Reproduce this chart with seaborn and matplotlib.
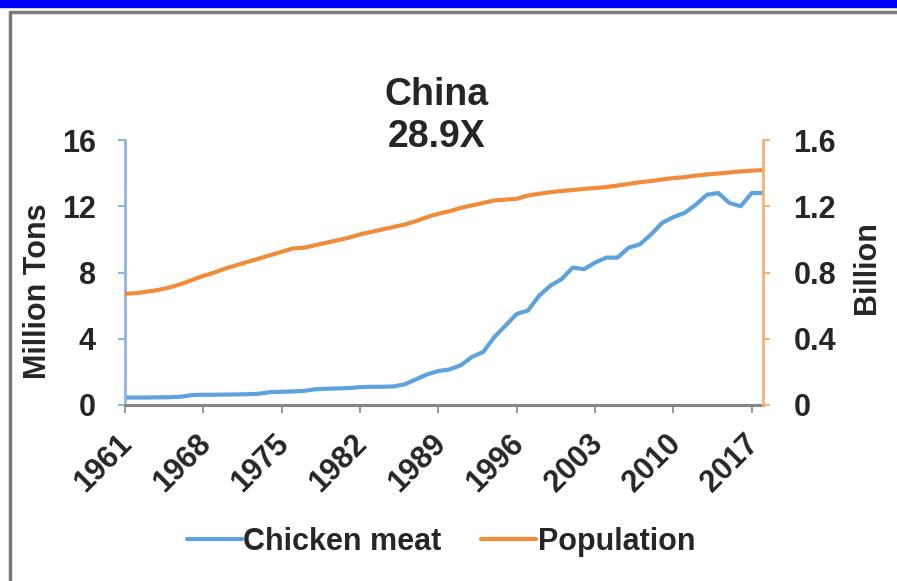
import numpy as np
import pandas as pd
import matplotlib
matplotlib.use("Agg")
import matplotlib.pyplot as plt
import matplotlib.transforms as mtransforms
from matplotlib.lines import Line2D
from matplotlib.patches import Rectangle
import seaborn as sns

years = list(range(1961, 2019))
chicken_meat = [0.45, 0.45, 0.45, 0.46, 0.47, 0.50, 0.60, 0.62, 0.62, 0.63,
                0.64, 0.65, 0.68, 0.78, 0.80, 0.82, 0.85, 0.95, 0.98, 1.00,
                1.02, 1.08, 1.10, 1.10, 1.12, 1.25, 1.55, 1.85, 2.05, 2.15,
                2.40, 2.90, 3.20, 4.10, 4.80, 5.50, 5.70, 6.60, 7.20, 7.60,
                8.30, 8.20, 8.60, 8.90, 8.90, 9.50, 9.70, 10.30, 11.00, 11.35,
                11.60, 12.10, 12.70, 12.80, 12.20, 12.00, 12.80, 12.80]
population = [0.672, 0.675, 0.685, 0.695, 0.710, 0.730, 0.755, 0.780, 0.800, 0.825,
              0.845, 0.865, 0.885, 0.905, 0.925, 0.945, 0.950, 0.965, 0.980, 0.995,
              1.010, 1.030, 1.045, 1.060, 1.075, 1.090, 1.110, 1.135, 1.155, 1.170,
              1.190, 1.205, 1.220, 1.235, 1.240, 1.245, 1.265, 1.275, 1.285, 1.292,
              1.298, 1.305, 1.310, 1.316, 1.325, 1.335, 1.345, 1.352, 1.362, 1.370,
              1.376, 1.385, 1.392, 1.398, 1.404, 1.410, 1.415, 1.418]
x_ticks = list(range(1961, 2018, 7))
left_ticks = [0, 4, 8, 12, 16]
right_ticks = [0, 0.4, 0.8, 1.2, 1.6]

BLUE = "#5DA2DD"
ORANGE = "#F08C3A"

sns.set_style("white")
plt.rcParams["font.family"] = ["Liberation Sans", "DejaVu Sans"]
plt.rcParams["font.weight"] = "bold"

df = pd.DataFrame({"year": years, "chicken": chicken_meat, "pop": population})

fig = plt.figure(figsize=(8.97, 5.81), dpi=100)
ax = fig.add_axes([125 / 897, 1 - 405 / 581, 638 / 897, 265 / 581])
ax2 = ax.twinx()

sns.lineplot(data=df, x="year", y="chicken", ax=ax, color=BLUE, lw=3,
             label="Chicken meat", legend=False)
sns.lineplot(data=df, x="year", y="pop", ax=ax2, color=ORANGE, lw=3,
             label="Population", legend=False)

ax.set_xlim(1961, 2018)
ax.set_ylim(0, 16)
ax2.set_ylim(0, 1.6)
ax.set_xticks(x_ticks)
ax.set_yticks(left_ticks)
ax2.set_yticks(right_ticks)
ax.set_yticklabels([str(v) for v in left_ticks])
ax2.set_yticklabels(["0" if v == 0 else f"{v:.1f}" for v in right_ticks])

for a in (ax, ax2):
    for s in a.spines.values():
        s.set_visible(False)
ax.spines["left"].set_visible(True)
ax.spines["left"].set_color("#8DB4E2")
ax.spines["left"].set_linewidth(2)
ax.spines["bottom"].set_visible(True)
ax.spines["bottom"].set_color("#858585")
ax.spines["bottom"].set_linewidth(2.2)
ax2.spines["right"].set_visible(True)
ax2.spines["right"].set_color("#F7B07A")
ax2.spines["right"].set_linewidth(2)

ax.tick_params(axis="y", left=True, length=5, width=1.5, color="#8DB4E2",
               labelsize=22, pad=16)
ax2.tick_params(axis="y", right=True, length=5, width=1.5, color="#F7B07A",
                labelsize=22, pad=17)
ax.tick_params(axis="x", bottom=True, length=6, width=1.2, color="#858585",
               labelsize=22, pad=19)
for lab in ax.get_yticklabels() + ax2.get_yticklabels():
    lab.set_fontweight("bold")
offset = mtransforms.ScaledTranslation(2 / 72, 0, fig.dpi_scale_trans)
for lab in ax.get_xticklabels():
    lab.set_rotation(45)
    lab.set_ha("right")
    lab.set_va("center")
    lab.set_rotation_mode("anchor")
    lab.set_fontweight("bold")
    lab.set_transform(lab.get_transform() + offset)

ax.set_xlabel("")
ax.set_ylabel("Million Tons", fontsize=22, fontweight="bold")
ax.yaxis.set_label_coords(-0.113, 0.43)
ax2.set_ylabel("Billion", fontsize=22, fontweight="bold")
ax2.yaxis.set_label_coords(1.139, 0.52)

fig.text(437 / 897, 1 - 116 / 581, "China\n28.9X", ha="center", va="center",
         fontsize=27, fontweight="bold", linespacing=1.2)

handles = [Line2D([], [], color=BLUE, lw=3), Line2D([], [], color=ORANGE, lw=3)]
fig.legend(handles, ["Chicken meat", "Population"], loc="center",
           bbox_to_anchor=(441 / 897, 1 - 542 / 581), ncol=2, frameon=False,
           handlelength=1.8, handletextpad=0.05, columnspacing=1.3,
           prop={"size": 22, "weight": "bold"})

# page decoration: blue band and grey frame
fig.patches.append(Rectangle((0, 1 - 7 / 581), 1, 7 / 581, transform=fig.transFigure,
                             color="#0000FF", zorder=5))
fig.lines.append(Line2D([10 / 897, 10 / 897], [0, 1 - 12 / 581], transform=fig.transFigure,
                        color="#7A7A7A", lw=2.5))
fig.lines.append(Line2D([10 / 897, 1], [1 - 12 / 581, 1 - 12 / 581], transform=fig.transFigure,
                        color="#7A7A7A", lw=2.5))

fig.savefig("out.png", dpi=100)
plt.close(fig)
